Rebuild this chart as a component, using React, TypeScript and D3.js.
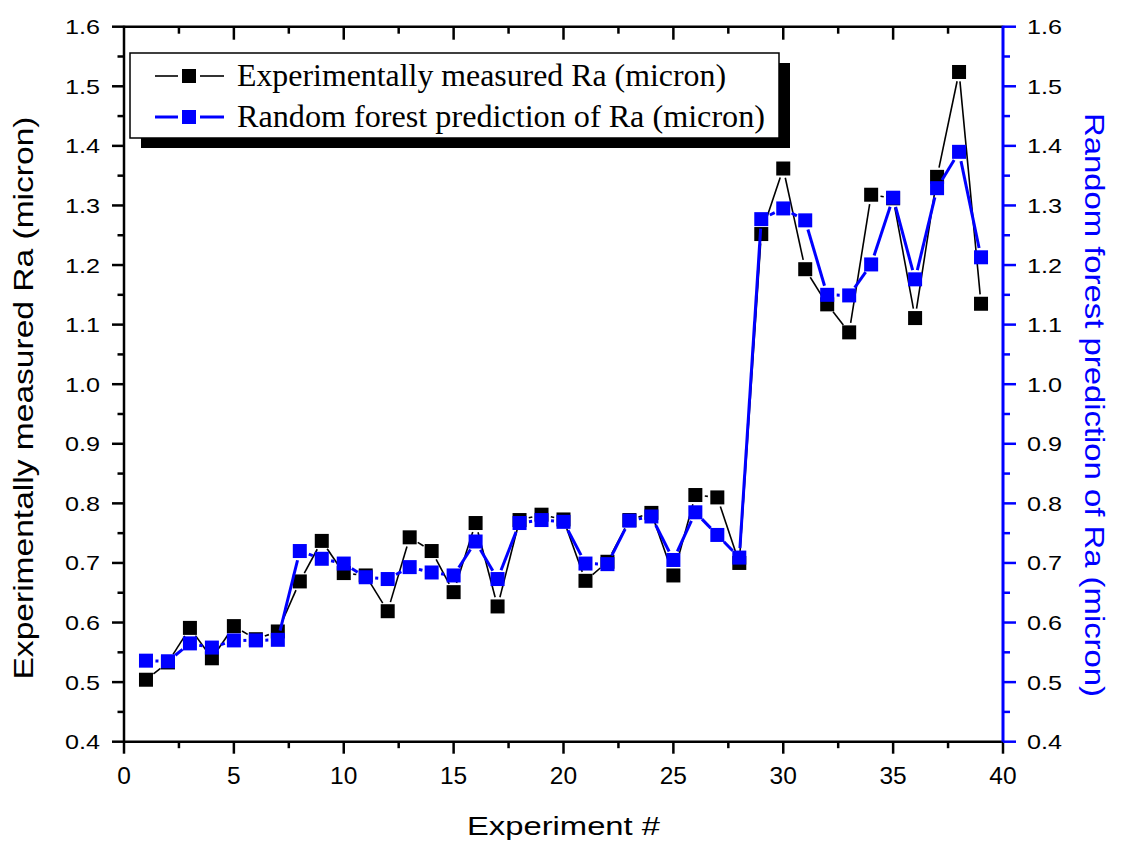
import React, { useEffect, useRef } from "react";
import * as d3 from "d3";

const experiments = [1, 2, 3, 4, 5, 6, 7, 8, 9, 10, 11, 12, 13, 14, 15, 16, 17, 18, 19, 20,
  21, 22, 23, 24, 25, 26, 27, 28, 29, 30, 31, 32, 33, 34, 35, 36, 37, 38, 39];
const measuredRa = [0.504, 0.533, 0.591, 0.540, 0.594, 0.572, 0.585, 0.669, 0.737, 0.683,
  0.679, 0.619, 0.743, 0.720, 0.651, 0.767, 0.627, 0.772, 0.781, 0.773,
  0.670, 0.702, 0.772, 0.784, 0.679, 0.814, 0.810, 0.700, 1.252, 1.362,
  1.193, 1.134, 1.087, 1.318, 1.312, 1.111, 1.348, 1.524, 1.135];
const predictedRa = [0.536, 0.535, 0.565, 0.558, 0.570, 0.570, 0.571, 0.720, 0.707, 0.699,
  0.676, 0.673, 0.693, 0.684, 0.679, 0.736, 0.673, 0.767, 0.772, 0.769,
  0.699, 0.698, 0.771, 0.778, 0.705, 0.785, 0.747, 0.709, 1.277, 1.295,
  1.275, 1.150, 1.149, 1.201, 1.313, 1.176, 1.329, 1.390, 1.213];
const xTicks = [0, 5, 10, 15, 20, 25, 30, 35, 40];
const yTicks = [0.4, 0.5, 0.6, 0.7, 0.8, 0.9, 1.0, 1.1, 1.2, 1.3, 1.4, 1.5, 1.6];
const seriesNames = ["Experimentally measured Ra (micron)", "Random forest prediction of Ra (micron)"];

const W = 1121, H = 848;
const left = 124, right = 1003, top = 26.7, bottom = 741.7;
const BLUE = "#0000ff";
const MS = 14; // marker size

function midpoints(t: number[]) {
  const out: number[] = [];
  for (let i = 0; i < t.length - 1; i++) out.push((t[i] + t[i + 1]) / 2);
  return out;
}

export default function App() {
  const ref = useRef<SVGSVGElement>(null);

  useEffect(() => {
    document.body.style.margin = "0";
    const svg = d3.select(ref.current);
    svg.selectAll("*").remove();

    const x = d3.scaleLinear().domain([0, 40]).range([left, right]);
    const y = d3.scaleLinear().domain([0.4, 1.6]).range([bottom, top]);
    const sans = "Arial, 'Liberation Sans', sans-serif";

    svg.append("rect").attr("width", W).attr("height", H).attr("fill", "white");

    // series: lines with gaps around the markers (origin style), then squares
    const drawSeries = (vals: number[], color: string, lw: number) => {
      const pts = experiments.map((e, i) => [x(e), y(vals[i])]);
      const g = svg.append("g");
      const gap = 9.5;
      for (let i = 0; i < pts.length - 1; i++) {
        const [x0, y0] = pts[i], [x1, y1] = pts[i + 1];
        const d = Math.hypot(x1 - x0, y1 - y0);
        if (d <= 2 * gap) continue;
        const ux = (x1 - x0) / d, uy = (y1 - y0) / d;
        g.append("line")
          .attr("x1", x0 + ux * gap).attr("y1", y0 + uy * gap)
          .attr("x2", x1 - ux * gap).attr("y2", y1 - uy * gap)
          .attr("stroke", color).attr("stroke-width", lw);
      }
      g.selectAll("rect.m").data(pts).enter().append("rect")
        .attr("x", d => d[0] - MS / 2).attr("y", d => d[1] - MS / 2)
        .attr("width", MS).attr("height", MS).attr("fill", color);
    };
    drawSeries(measuredRa, "black", 1.6);
    drawSeries(predictedRa, BLUE, 3);

    // frame
    const ax = svg.append("g");
    ax.append("line").attr("x1", left).attr("x2", right).attr("y1", top).attr("y2", top)
      .attr("stroke", "black").attr("stroke-width", 2.5);
    ax.append("line").attr("x1", left).attr("x2", right).attr("y1", bottom).attr("y2", bottom)
      .attr("stroke", "black").attr("stroke-width", 2.5);
    ax.append("line").attr("x1", left).attr("x2", left).attr("y1", top - 1).attr("y2", bottom + 1)
      .attr("stroke", "black").attr("stroke-width", 2.5);
    ax.append("line").attr("x1", right).attr("x2", right).attr("y1", top - 1).attr("y2", bottom + 1)
      .attr("stroke", BLUE).attr("stroke-width", 3);

    const xMinor = midpoints(xTicks);
    const yMinor = midpoints(yTicks);

    // x ticks: bottom outward, top inward
    xTicks.forEach(t => {
      ax.append("line").attr("x1", x(t)).attr("x2", x(t)).attr("y1", bottom).attr("y2", bottom + 12)
        .attr("stroke", "black").attr("stroke-width", 2.5);
      if (t > 0 && t < 40)
        ax.append("line").attr("x1", x(t)).attr("x2", x(t)).attr("y1", top).attr("y2", top + 13)
          .attr("stroke", "black").attr("stroke-width", 2.5);
      ax.append("text").attr("x", x(t)).attr("y", 784).attr("text-anchor", "middle")
        .attr("font-family", sans).attr("font-size", 24.5).attr("fill", "black").text(String(t));
    });
    xMinor.forEach(t => {
      ax.append("line").attr("x1", x(t)).attr("x2", x(t)).attr("y1", bottom).attr("y2", bottom + 6.5)
        .attr("stroke", "black").attr("stroke-width", 2.5);
      ax.append("line").attr("x1", x(t)).attr("x2", x(t)).attr("y1", top).attr("y2", top + 7)
        .attr("stroke", "black").attr("stroke-width", 2.5);
    });

    // y ticks: left black, right blue, both outward
    yTicks.forEach(t => {
      ax.append("line").attr("x1", left - 12).attr("x2", left).attr("y1", y(t)).attr("y2", y(t))
        .attr("stroke", "black").attr("stroke-width", 2.5);
      ax.append("line").attr("x1", right).attr("x2", right + 13).attr("y1", y(t)).attr("y2", y(t))
        .attr("stroke", BLUE).attr("stroke-width", 2.5);
      const lbl = t.toFixed(1);
      ax.append("text").attr("x", 100).attr("y", y(t) + 7.5).attr("text-anchor", "end")
        .attr("font-family", sans).attr("font-size", 21).attr("fill", "black")
        .attr("textLength", 35).attr("lengthAdjust", "spacingAndGlyphs").text(lbl);
      ax.append("text").attr("x", 1027).attr("y", y(t) + 7.5).attr("text-anchor", "start")
        .attr("font-family", sans).attr("font-size", 21).attr("fill", "black")
        .attr("textLength", 35).attr("lengthAdjust", "spacingAndGlyphs").text(lbl);
    });
    yMinor.forEach(t => {
      ax.append("line").attr("x1", left - 6.5).attr("x2", left).attr("y1", y(t)).attr("y2", y(t))
        .attr("stroke", "black").attr("stroke-width", 2.5);
      ax.append("line").attr("x1", right).attr("x2", right + 7).attr("y1", y(t)).attr("y2", y(t))
        .attr("stroke", BLUE).attr("stroke-width", 2.5);
    });

    // axis titles
    svg.append("text").attr("x", (left + right) / 2).attr("y", 835).attr("text-anchor", "middle")
      .attr("font-family", sans).attr("font-size", 26.5).attr("fill", "black")
      .attr("textLength", 193).attr("lengthAdjust", "spacingAndGlyphs").text("Experiment #");
    svg.append("text").attr("transform", "translate(33,398) rotate(-90)").attr("text-anchor", "middle")
      .attr("font-family", sans).attr("font-size", 28).attr("fill", "black")
      .attr("textLength", 563).attr("lengthAdjust", "spacingAndGlyphs").text(seriesNames[0]);
    svg.append("text").attr("transform", "translate(1085,405) rotate(90)").attr("text-anchor", "middle")
      .attr("font-family", sans).attr("font-size", 28).attr("fill", BLUE)
      .attr("textLength", 584).attr("lengthAdjust", "spacingAndGlyphs").text(seriesNames[1]);

    // legend with drop shadow
    const lg = svg.append("g");
    lg.append("rect").attr("x", 141).attr("y", 63).attr("width", 649).attr("height", 85).attr("fill", "black");
    lg.append("rect").attr("x", 130).attr("y", 53).attr("width", 649).attr("height", 85)
      .attr("fill", "white").attr("stroke", "black").attr("stroke-width", 1.5);
    const legendRows = [
      { name: seriesNames[0], color: "black", lw: 1.6, cy: 76, len: 489 },
      { name: seriesNames[1], color: BLUE, lw: 3, cy: 117, len: 528 },
    ];
    legendRows.forEach(r => {
      lg.append("line").attr("x1", 155).attr("x2", 178).attr("y1", r.cy).attr("y2", r.cy)
        .attr("stroke", r.color).attr("stroke-width", r.lw);
      lg.append("line").attr("x1", 200).attr("x2", 224).attr("y1", r.cy).attr("y2", r.cy)
        .attr("stroke", r.color).attr("stroke-width", r.lw);
      lg.append("rect").attr("x", 182).attr("y", r.cy - MS / 2).attr("width", MS).attr("height", MS)
        .attr("fill", r.color);
      lg.append("text").attr("x", 237).attr("y", r.cy + 10).attr("font-family", "'Times New Roman', 'Liberation Serif', serif")
        .attr("font-size", 31).attr("fill", "black")
        .attr("textLength", r.len).attr("lengthAdjust", "spacingAndGlyphs").text(r.name);
    });
  }, []);

  return <svg ref={ref} width={W} height={H} style={{ display: "block" }} />;
}
